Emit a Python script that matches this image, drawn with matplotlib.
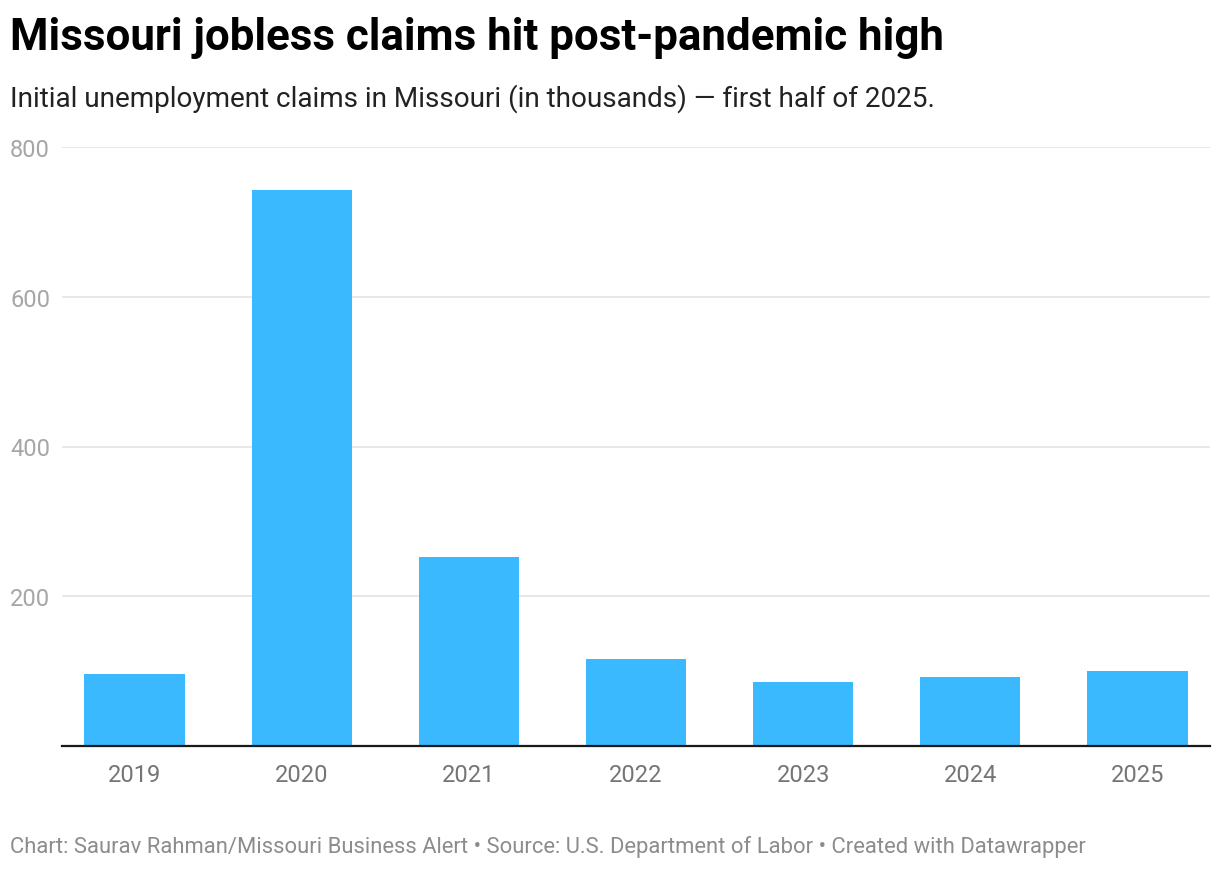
import matplotlib.pyplot as plt
import numpy as np

years = ["2019", "2020", "2021", "2022", "2023", "2024", "2025"]
claims = [96, 743, 253, 116, 85, 92, 100]  # thousands
yticks = [200, 400, 600, 800]

plt.rcParams['font.family'] = ['Roboto', 'DejaVu Sans']

fig = plt.figure(figsize=(12.2, 8.7), dpi=100)
W, H = 1220, 870
ax = fig.add_axes([62/W, 1 - 747/H, (1210 - 62)/W, (747 - 148)/H])

x = np.arange(len(years))
ax.bar(x, claims, width=0.6, color="#3bb9ff", zorder=2)

ax.set_xlim(-0.434, len(years) - 1 + 0.434)
ax.set_ylim(0, 800)
ax.set_yticks(yticks)
ax.set_yticklabels([str(v) for v in yticks])
ax.set_xticks(x)
ax.set_xticklabels(years)

ax.grid(axis="y", color="#e2e2e2", linewidth=1.1, zorder=0)
ax.axhline(0, color="#1a1a1a", linewidth=1.6, zorder=3, clip_on=False)
for s in ax.spines.values():
    s.set_visible(False)
ax.tick_params(axis="y", length=0, pad=8.6, labelsize=17, labelcolor="#a6a6a6")
ax.tick_params(axis="x", length=0, pad=12.5, labelsize=17, labelcolor="#757575")

fig.text(10/W, 1 - 50/H, "Missouri jobless claims hit post-pandemic high",
         fontsize=31.6, fontweight="bold", color="#000000", va="baseline")
fig.text(10/W, 1 - 107/H, "Initial unemployment claims in Missouri (in thousands) \u2014 first half of 2025.",
         fontsize=20.1, color="#222222", va="baseline")
fig.text(10/W, 1 - 853/H,
         "Chart: Saurav Rahman/Missouri Business Alert \u2022 Source: U.S. Department of Labor \u2022 Created with Datawrapper",
         fontsize=15.8, color="#8c8c8c", va="baseline")

fig.savefig("out.png", dpi=100)
